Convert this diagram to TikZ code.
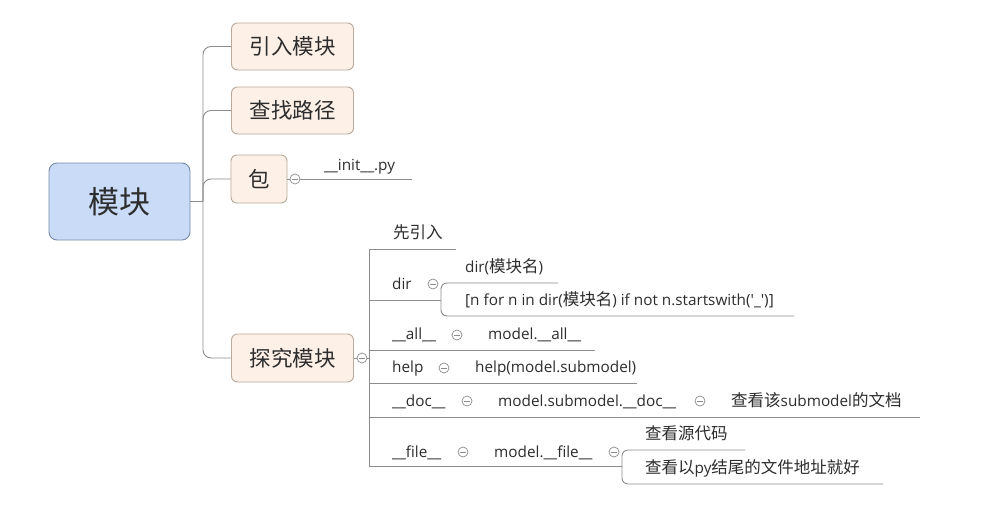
\documentclass[tikz,border=0pt]{standalone}
\usepackage{fontspec}
\newfontfamily\latin{Open Sans}
\newfontfamily\cjk{Noto Sans CJK SC}
\newcommand{\zh}[1]{{\cjk\fontsize{16.5}{18}\selectfont #1}}
\definecolor{linec}{RGB}{140,140,140}
\definecolor{textc}{RGB}{45,45,45}
\definecolor{rootfill}{RGB}{201,219,247}
\definecolor{rootdraw}{RGB}{120,138,165}
\definecolor{boxfill}{RGB}{253,241,231}
\definecolor{boxdraw}{RGB}{185,170,155}
\tikzset{
  conn/.style={draw=linec, line width=0.9pt},
  rootbox/.style={draw=rootdraw, fill=rootfill, rounded corners=8pt, line width=0.9pt,
    minimum width=141pt, minimum height=77pt, inner sep=0pt, text=textc,
    font=\cjk\fontsize{31}{34}\selectfont},
  topicbox/.style={draw=boxdraw, fill=boxfill, rounded corners=6pt, line width=0.9pt,
    minimum width=122pt, minimum height=47pt, inner sep=0pt, text=textc,
    font=\cjk\fontsize{21.5}{24}\selectfont},
  leaf/.style={anchor=base west, inner sep=0pt, text=textc,
    font=\latin\fontsize{15.3}{17}\selectfont},
  minus/.style={circle, draw=linec, fill=white, line width=0.7pt, minimum size=10pt, inner sep=0pt,
    path picture={\draw[linec, line width=0.7pt]
      ([xshift=-2.6pt]path picture bounding box.center) -- ([xshift=2.6pt]path picture bounding box.center);}}
}
\begin{document}
\begin{tikzpicture}[x=1pt,y=-1pt]
\fill[white] (0,0) rectangle (1007,517);
\useasboundingbox (0,0) rectangle (1007,517);

% root and main topics
\node[rootbox] (root) at (119.5,201.5) {模块};
\node[topicbox] (c1) at (292.5,46.5) {引入模块};
\node[topicbox] (c2) at (292.5,110.5) {查找路径};
\node[topicbox, minimum width=56pt, minimum height=48pt] (c3) at (259,179) {包};
\node[topicbox, minimum height=48pt] (c4) at (292.5,358) {探究模块};

\coordinate (rj) at (203,201.5);
\draw[conn] (root.east) -- (rj);
\foreach \c in {c1,c2,c3,c4}
  \draw[conn, rounded corners=8pt] (rj) |- (\c.west);

% package
\node[minus] (m0) at (295,179) {};
\draw[conn] (c3.east) -- (m0.west);
\coordinate (p0) at (412,179);
\draw[conn] (m0.east) -- (p0);
\node[leaf] (init) at (324,170) {\_\_init\_\_.py};

% explore module
\node[minus] (m1) at (362,358) {};
\draw[conn] (c4.east) -- (m1.west);
\coordinate (tt) at (369,249);
\coordinate (tb) at (369,466);
\coordinate (tm) at (369,358);
\draw[conn] (m1.east) -- (tm);
\coordinate (e1) at (456,249);
\coordinate (fj) at (622,466);
\draw[conn] (e1) -- (tt) -- (tb) -- (fj);

% leaf underlines
\coordinate (dirl) at (369,300);  \coordinate (dirj) at (441,300);
\coordinate (alll) at (369,350);  \coordinate (allr) at (595,350);
\coordinate (hlpl) at (369,383);  \coordinate (hlpr) at (637,383);
\coordinate (docl) at (369,417);  \coordinate (docr) at (920,417);
\draw[conn] (dirl) -- (dirj);
\draw[conn] (alll) -- (allr);
\draw[conn] (hlpl) -- (hlpr);
\draw[conn] (docl) -- (docr);

% dir children
\coordinate (d1r) at (558,283);
\coordinate (d1c) at (441,283);
\coordinate (d2c) at (441,316);
\coordinate (d2r) at (794,316);
\draw[conn, rounded corners=6pt] (d1r) -- (d1c) -- (d2c) -- (d2r);

% file children
\coordinate (f1r) at (745,450);
\coordinate (f1c) at (622,450);
\coordinate (f2c) at (622,484);
\coordinate (f2r) at (883,484);
\draw[conn, rounded corners=6pt] (f1r) -- (f1c) -- (f2c) -- (f2r);

% texts
\node[leaf] (t1) at (393,238) {\zh{先引入}};
\node[leaf] (tdir) at (392,289) {dir};
\node[minus] (mdir) at (433,284) {};
\node[leaf] (tdir1) at (465,272) {dir(\zh{模块名})};
\node[leaf] (tdir2) at (465,305) {[n for n in dir(\zh{模块名}) if not n.startswith('\_')]};

\node[leaf] (tall) at (392,339) {\_\_all\_\_};
\node[minus] (mall) at (457,335) {};
\node[leaf] (tall1) at (488,339) {model.\_\_all\_\_};

\node[leaf] (thelp) at (392,372) {help};
\node[minus] (mhelp) at (444,368) {};
\node[leaf] (thelp1) at (475,372) {help(model.submodel)};

\node[leaf] (tdoc) at (392,406) {\_\_doc\_\_};
\node[minus] (mdoc) at (467,401) {};
\node[leaf] (tdoc1) at (498,406) {model.submodel.\_\_doc\_\_};
\node[minus] (mdoc1) at (700,401) {};
\node[leaf] (tdoc2) at (731,406) {\zh{查看该}submodel\zh{的文档}};

\node[leaf] (tfile) at (392,457) {\_\_file\_\_};
\node[minus] (mfile) at (463,452) {};
\node[leaf] (tfile1) at (494,457) {model.\_\_file\_\_};
\node[minus] (mfile1) at (614,452) {};
\node[leaf] (tfile2) at (645,439) {\zh{查看源代码}};
\node[leaf] (tfile3) at (645,473) {\zh{查看以}py\zh{结尾的文件地址就好}};
\end{tikzpicture}
\end{document}
